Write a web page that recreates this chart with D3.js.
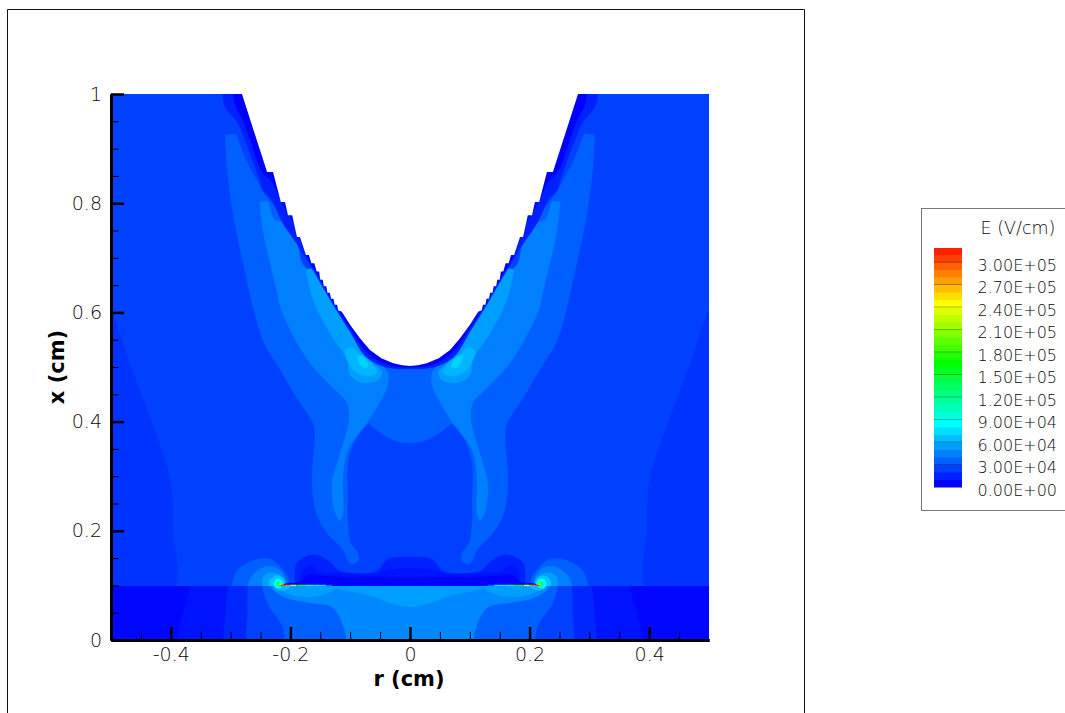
<!DOCTYPE html>
<html><head><meta charset="utf-8">
<script src="https://cdn.jsdelivr.net/npm/d3@7"></script>
<style>html,body{margin:0;padding:0;background:#fff;overflow:hidden}svg{display:block}
text{font-family:"DejaVu Sans",sans-serif;font-weight:200;fill:#0a0a0a}</style></head><body>
<svg id="c" width="1065" height="713"></svg>
<script>
// ---- axis data
const xMajor=[-0.4,-0.2,0,0.2,0.4];
const xMinor=[-0.45,-0.35,-0.3,-0.25,-0.15,-0.1,-0.05,0.05,0.1,0.15,0.25,0.3,0.35,0.45];
const yMajor=[0,0.2,0.4,0.6,0.8,1];
const yMinor=[0.05,0.1,0.15,0.25,0.3,0.35,0.45,0.5,0.55,0.65,0.7,0.75,0.85,0.9,0.95];
const xLabels=["-0.4","-0.2","0","0.2","0.4"];
const yLabels=["0","0.2","0.4","0.6","0.8","1"];
// ---- legend data
const legendTicks=[300000,270000,240000,210000,180000,150000,120000,90000,60000,30000,0];
const legendLabels=["3.00E+05","2.70E+05","2.40E+05","2.10E+05","1.80E+05","1.50E+05","1.20E+05","9.00E+04","6.00E+04","3.00E+04","0.00E+00"];
const colorStops=[0,80000,160000,240000,320000];
const colorNames=["#0000ff","#00ffff","#00ff00","#ffff00","#ff0000"];
// ---- contour outlines of the left half, [r, x] in cm
const bodyEdge=[[-0.281,1.02],[-0.281,1.0],[-0.239,0.857],[-0.229,0.857],[-0.216,0.802],[-0.209,0.802],[-0.204,0.778],[-0.197,0.778],[-0.189,0.738],[-0.184,0.738],[-0.174,0.705],[-0.169,0.705],[-0.165,0.690],[-0.160,0.690],[-0.156,0.675],[-0.152,0.675],[-0.150,0.660],[-0.146,0.660],[-0.144,0.648],[-0.140,0.648],[-0.138,0.636],[-0.134,0.636],[-0.132,0.625],[-0.128,0.625],[-0.126,0.614],[-0.122,0.614],[-0.120,0.604],[-0.114,0.601],[-0.100,0.577],[-0.084,0.553],[-0.067,0.531],[-0.048,0.516],[-0.028,0.507],[-0.013,0.503],[0,0.502]];
const rimOuter=[[-0.314,1.03],[-0.314,1.002],[-0.309,0.976],[-0.289,0.949],[-0.276,0.916],[-0.251,0.842],[-0.246,0.824],[-0.231,0.806],[-0.214,0.766],[-0.189,0.725],[-0.172,0.695],[-0.154,0.662],[-0.129,0.615],[-0.100,0.564],[-0.075,0.520],[-0.050,0.503],[-0.025,0.497],[0,0.497]];
const rimInner=[[-0.296,1.03],[-0.296,1.002],[-0.291,0.976],[-0.279,0.952],[-0.268,0.919],[-0.247,0.857],[-0.231,0.839],[-0.212,0.797],[-0.192,0.760],[-0.172,0.702],[-0.154,0.668],[-0.129,0.621],[-0.100,0.571],[-0.075,0.531],[-0.050,0.510],[-0.025,0.501],[0,0.5]];
const sideStrip=[[-0.53,0.66],[-0.5,0.604],[-0.468,0.504],[-0.427,0.385],[-0.401,0.293],[-0.396,0.201],[-0.398,0.09],[-0.53,0.09]];
const bandOuter=[[0,0.6],[-0.184,0.692],[-0.217,0.778],[-0.246,0.821],[-0.256,0.842],[-0.274,0.879],[-0.291,0.927],[-0.291,0.927],[-0.309,0.925],[-0.309,0.925],[-0.306,0.866],[-0.296,0.782],[-0.279,0.690],[-0.246,0.549],[-0.217,0.495],[-0.189,0.443],[-0.162,0.397],[-0.159,0.379],[-0.162,0.330],[-0.164,0.288],[-0.157,0.233],[-0.139,0.196],[-0.112,0.165],[-0.105,0.147],[-0.097,0.139],[-0.087,0.145],[-0.087,0.159],[-0.099,0.178],[-0.104,0.220],[-0.104,0.256],[-0.104,0.324],[-0.092,0.366],[-0.070,0.397],[-0.070,0.397],[-0.042,0.374],[-0.022,0.364],[0,0.361]];
const bandMiddle=[[-0.02,0.6],[-0.176,0.683],[-0.189,0.727],[-0.212,0.764],[-0.226,0.769],[-0.237,0.804],[-0.237,0.804],[-0.251,0.802],[-0.251,0.802],[-0.246,0.751],[-0.222,0.636],[-0.217,0.610],[-0.191,0.549],[-0.162,0.500],[-0.129,0.462],[-0.105,0.434],[-0.102,0.403],[-0.110,0.366],[-0.120,0.330],[-0.130,0.288],[-0.125,0.233],[-0.117,0.220],[-0.112,0.233],[-0.112,0.299],[-0.104,0.348],[-0.072,0.397],[-0.072,0.397],[-0.038,0.463],[-0.037,0.489],[-0.045,0.504]];
const bandInner=[[-0.109,0.623],[-0.164,0.681],[-0.164,0.681],[-0.174,0.678],[-0.174,0.678],[-0.162,0.623],[-0.134,0.562],[-0.105,0.513],[-0.100,0.485],[-0.079,0.471],[-0.054,0.476],[-0.047,0.491],[-0.064,0.509]];
const lobeOuter=[[-0.097,0.535],[-0.108,0.530],[-0.097,0.497],[-0.075,0.484],[-0.055,0.490],[-0.066,0.509],[-0.082,0.521]];
const lobeCore=[[-0.088,0.520],[-0.080,0.500],[-0.070,0.500],[-0.072,0.511],[-0.080,0.520]];
const plateHigh=[[-0.192,0.09],[-0.192,0.1],[-0.189,0.141],[-0.162,0.156],[-0.134,0.143],[-0.117,0.126],[-0.055,0.126],[-0.038,0.147],[0,0.152]];
const plateMid=[[-0.184,0.09],[-0.184,0.104],[-0.179,0.128],[-0.167,0.137],[-0.151,0.125],[-0.117,0.123],[-0.062,0.121],[-0.038,0.128],[0,0.132]];
const plateLow=[[-0.212,0.09],[-0.212,0.101],[-0.184,0.106],[-0.171,0.119],[-0.156,0.119],[-0.117,0.115],[-0.05,0.115],[0,0.114]];
const hotA=[[-0.298,0.1],[-0.288,0.128],[-0.259,0.147],[-0.231,0.147],[-0.212,0.128],[-0.204,0.114],[-0.204,0.09],[-0.298,0.09]];
const hotB=[[-0.271,0.099],[-0.263,0.119],[-0.242,0.134],[-0.222,0.132],[-0.209,0.115],[-0.209,0.09],[-0.271,0.09]];
const hotC=[[-0.247,0.099],[-0.246,0.114],[-0.234,0.123],[-0.217,0.119],[-0.209,0.11],[-0.209,0.09],[-0.247,0.09]];
const hotD=[[-0.236,0.101],[-0.233,0.112],[-0.222,0.118],[-0.212,0.112],[-0.209,0.104],[-0.209,0.09],[-0.236,0.09]];
const coreCyan=[[-0.228,0.101],[-0.226,0.109],[-0.220,0.112],[-0.214,0.109],[-0.212,0.102],[-0.216,0.096],[-0.225,0.096]];
const coreGreen=[[-0.222,0.103],[-0.220,0.106],[-0.216,0.104],[-0.217,0.100],[-0.221,0.100]];
const coreYellow=[[-0.219,0.103],[-0.217,0.104],[-0.216,0.102],[-0.218,0.101]];
const underA=[[0,0.12],[-0.368,0.12],[-0.368,0.099],[-0.380,-0.03],[0,-0.03]];
const underB=[[0,0.12],[-0.304,0.12],[-0.304,0.1],[-0.308,0.055],[-0.301,-0.03],[0,-0.03]];
const underC=[[0,0.12],[-0.271,0.12],[-0.271,0.1],[-0.272,0.05],[-0.264,-0.03],[0,-0.03]];
const underD=[[0,0.12],[-0.247,0.12],[-0.247,0.098],[-0.237,0.064],[-0.214,0.027],[-0.198,-0.03],[0,-0.03]];
const underE=[[0,0.12],[-0.231,0.12],[-0.231,0.095],[-0.206,0.077],[-0.167,0.068],[-0.129,0.059],[-0.109,0.018],[-0.100,-0.03],[0,-0.03]];
const underF=[[0,0.12],[-0.130,0.12],[-0.130,0.1],[-0.072,0.083],[0,0.061]];
const underLobe=[[-0.221,0.097],[-0.206,0.086],[-0.181,0.079],[-0.142,0.084],[-0.125,0.095],[-0.125,0.11],[-0.221,0.11]];
const underHot=[[-0.229,0.102],[-0.222,0.092],[-0.212,0.091],[-0.200,0.098],[-0.200,0.11],[-0.229,0.11]];
const plateR=[-0.218,-0.21,-0.20,-0.19,-0.175,-0.16,-0.14,-0.13];
const plateV=[220000,300000,280000,230000,160000,110000,70000,30000];
const PLATE=0.1;

// ---- scales
const W=1065,H=713;
const xS=d3.scaleLinear().domain([-0.5,0.5]).range([111,709]);
const yS=d3.scaleLinear().domain([0,1]).range([640,94]);
const plateY=Math.ceil(yS(PLATE));
const lev=d3.scaleLinear().domain(colorStops).range(colorNames).clamp(true);
const svg=d3.select("#c");
const smooth=d3.line().x(d=>xS(d[0])).y(d=>yS(d[1])).curve(d3.curveCatmullRomClosed.alpha(0.5));
const straight=d3.line().x(d=>xS(d[0])).y(d=>yS(d[1])).curve(d3.curveLinearClosed);
const flip=p=>p.map(d=>[-d[0],d[1]]);
const whole=p=>p.concat(flip(p).reverse().filter(d=>d[0]!==0));

const defs=svg.append("defs");
defs.append("clipPath").attr("id","up").append("rect").attr("x",xS(-0.5)).attr("y",yS(1)).attr("width",xS(0.5)-xS(-0.5)).attr("height",plateY-yS(1));
defs.append("clipPath").attr("id","lo").append("rect").attr("x",xS(-0.5)).attr("y",plateY).attr("width",xS(0.5)-xS(-0.5)).attr("height",yS(0)-plateY);
defs.append("clipPath").attr("id","all").append("rect").attr("x",xS(-0.5)).attr("y",yS(1)).attr("width",xS(0.5)-xS(-0.5)).attr("height",yS(0)-yS(1));

// frame
svg.append("path").attr("d",`M7.5,${H+5}V9.5H804.5V${H+5}`).attr("fill","none").attr("stroke","#111").attr("stroke-width",1);

const upper=svg.append("g").attr("clip-path","url(#up)");
const lower=svg.append("g").attr("clip-path","url(#lo)");
const over=svg.append("g").attr("clip-path","url(#all)");
function fill(g,d,v){g.append("path").attr("d",d).attr("fill",lev(v)).attr("stroke",lev(v)).attr("stroke-width",0.3);}
function both(g,p,v){fill(g,smooth(p),v);fill(g,smooth(flip(p)),v);}
function one(g,p,v){fill(g,smooth(whole(p)),v);}

// upper field
upper.append("rect").attr("x",xS(-0.5)).attr("y",yS(1)).attr("width",598).attr("height",546).attr("fill",lev(20000));
both(upper,sideStrip,16000);
one(upper,bandOuter,30000);
both(upper,bandMiddle,40000);
both(upper,bandInner,50000);
both(upper,lobeOuter,57000);
both(upper,lobeCore,66000);
one(upper,rimOuter,10000);
one(upper,rimInner,0);
both(upper,hotA,30000);
both(upper,hotB,40000);
both(upper,hotC,50000);
both(upper,hotD,62000);
one(upper,plateHigh,10000);
one(upper,plateMid,6000);
one(upper,plateLow,0);
// lower field
lower.append("rect").attr("x",xS(-0.5)).attr("y",plateY).attr("width",598).attr("height",yS(0)-plateY).attr("fill",lev(2000));
one(lower,underA,6000);
one(lower,underB,12000);
one(lower,underC,20000);
one(lower,underD,30000);
one(lower,underE,43000);
one(lower,underF,50000);
both(lower,underLobe,50000);
both(lower,underHot,60000);
// body
over.append("path").attr("d",straight(whole(bodyEdge))).attr("fill","#fff");
// plate and hot cores
both(over,coreCyan,85000);
[plateV.map((v,i)=>[plateR[i],v]),plateV.map((v,i)=>[-plateR[i],v])].forEach(s=>{
  d3.pairs(s).forEach(([a,b])=>{
    over.append("line").attr("x1",xS(a[0])).attr("x2",xS(b[0])).attr("y1",yS(PLATE)).attr("y2",yS(PLATE)).attr("stroke",lev(b[1])).attr("stroke-width",1.3);
  });
});
both(over,coreGreen,150000);
both(over,coreYellow,240000);

// axes
function styleAxis(g,w){g.select(".domain").attr("stroke","#000").attr("stroke-width",3);g.selectAll(".tick line").attr("stroke","#000").attr("stroke-width",w);}
const gxMin=svg.append("g").attr("transform",`translate(0,${yS(0)})`).call(d3.axisBottom(xS).tickValues(xMinor).tickSizeInner(-8).tickSizeOuter(0).tickFormat(""));styleAxis(gxMin,1);
const gyMin=svg.append("g").attr("transform",`translate(${xS(-0.5)},0)`).call(d3.axisLeft(yS).tickValues(yMinor).tickSizeInner(-8).tickSizeOuter(0).tickFormat(""));styleAxis(gyMin,1);
const gx=svg.append("g").attr("transform",`translate(0,${yS(0)})`).call(d3.axisBottom(xS).tickValues(xMajor).tickSizeInner(-13).tickSizeOuter(0).tickPadding(8).tickFormat((d,i)=>xLabels[i]));styleAxis(gx,2.5);
const gy=svg.append("g").attr("transform",`translate(${xS(-0.5)},0)`).call(d3.axisLeft(yS).tickValues(yMajor).tickSizeInner(-13).tickSizeOuter(0).tickPadding(9).tickFormat((d,i)=>yLabels[i]));styleAxis(gy,2.5);
[gx,gy].forEach(g=>g.selectAll("text").attr("font-size",19).attr("font-family","DejaVu Sans"));
svg.append("text").attr("x",409).attr("y",686).attr("text-anchor","middle").attr("font-size",21).style("font-weight","bold").style("fill","#000").text("r (cm)");
svg.append("text").attr("transform","translate(64,367) rotate(-90)").attr("text-anchor","middle").attr("font-size",21).style("font-weight","bold").style("fill","#000").text("x (cm)");

// legend
const lg=svg.append("g");
lg.append("rect").attr("x",921.5).attr("y",208.5).attr("width",160).attr("height",302).attr("fill","#fff").attr("stroke","#777");
lg.append("text").attr("x",1018).attr("y",234).attr("text-anchor","middle").attr("font-size",17.5).text("E (V/cm)");
const legendY=d3.scaleLinear().domain([0,300000]).range([487,262]);
const legendTop=legendY.invert(248);
const legendBands=d3.range(0,32).map(k=>k*10000).filter(v=>v<legendTop);
lg.selectAll("rect.b").data(legendBands).enter().append("rect").attr("class","b").attr("x",934).attr("width",28)
  .attr("y",d=>legendY(Math.min(d+10000,legendTop))).attr("height",d=>legendY(d)-legendY(Math.min(d+10000,legendTop))+0.5).attr("fill",d=>lev(d));
lg.selectAll("line").data(legendTicks.slice(0,-1)).enter().append("line").attr("x1",934).attr("x2",962).attr("y1",d=>legendY(d)).attr("y2",d=>legendY(d)).attr("stroke","#000").attr("stroke-opacity",0.3);
lg.selectAll("text.t").data(legendTicks).enter().append("text").attr("class","t").attr("x",1057).attr("y",d=>legendY(d)+8.5).attr("text-anchor","end").attr("font-size",16).text((d,i)=>legendLabels[i]);
</script></body></html>
